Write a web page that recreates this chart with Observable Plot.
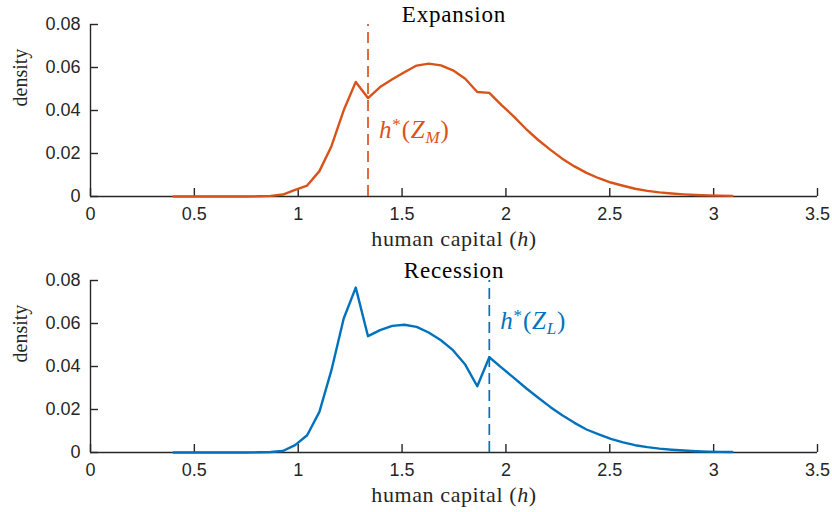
<!DOCTYPE html>
<html><head><meta charset="utf-8">
<script src="https://cdn.jsdelivr.net/npm/d3@7"></script>
<script src="https://cdn.jsdelivr.net/npm/@observablehq/plot@0.6"></script>
<style>
body{margin:0;background:#fff;}
#chart{width:832px;height:512px;overflow:hidden;}
svg{display:block;}
</style></head><body><div id="chart"></div>
<script>
const capital = [0.400,0.458,0.517,0.575,0.634,0.692,0.751,0.809,0.868,0.926,0.985,1.043,1.102,1.160,1.219,1.277,1.336,1.394,1.453,1.511,1.570,1.628,1.687,1.745,1.804,1.862,1.920,1.979,2.037,2.096,2.154,2.213,2.271,2.330,2.388,2.447,2.505,2.564,2.622,2.681,2.739,2.798,2.856,2.915,2.973,3.032,3.090];
const densityExpansion = [0,0,0,0,0,0,0,0.0001,0.0003,0.0009,0.0031,0.0051,0.0118,0.0234,0.0401,0.0533,0.0458,0.0509,0.0545,0.0578,0.0609,0.0618,0.0610,0.0587,0.0548,0.0486,0.0482,0.0425,0.0373,0.0315,0.0264,0.0218,0.0176,0.0140,0.0110,0.0085,0.0065,0.0050,0.0036,0.0026,0.0019,0.0014,0.0010,0.0007,0.0005,0.0004,0.0003];
const densityRecession = [0,0,0,0,0,0,0,0.0001,0.0002,0.0007,0.0034,0.0080,0.0189,0.0383,0.0623,0.0767,0.0541,0.0569,0.0589,0.0594,0.0584,0.0558,0.0522,0.0476,0.0409,0.0308,0.0443,0.0395,0.0348,0.0300,0.0256,0.0212,0.0173,0.0138,0.0107,0.0084,0.0063,0.0047,0.0034,0.0025,0.0018,0.0013,0.0009,0.0006,0.0004,0.0003,0.0002];
const hStarExpansion = 1.336;
const hStarRecession = 1.920;
const xTicks = [0,0.5,1,1.5,2,2.5,3,3.5];
const yTicks = [0,0.02,0.04,0.06,0.08];
const titles = ["Expansion","Recession"];
const subscripts = ["M","L"];
const labelHeights = [0.027,0.0573];
const colors = ["#D95319","#0072BD"];
const xLabel = "human capital (h)";
const yLabel = "density";

const serif = "'Liberation Serif','Times New Roman',serif";
const axisColor = "#262626";
const fmt = d => String(+(+d).toFixed(2));

function makePanel(i){
  const values = i === 0 ? densityExpansion : densityRecession;
  const hstar = i === 0 ? hStarExpansion : hStarRecession;
  const color = colors[i];
  const data = capital.map((h,k)=>({h, d: values[k]}));
  const W = 832, H = 256, ml = 90, mr = 15, mt = 24, mb = 60;
  const xDom = [0,3.5], yDom = [0,0.08];
  const tickPx = 8;
  const tickLenX = tickPx*(xDom[1]-xDom[0])/(W-ml-mr);
  const tickLenY = tickPx*(yDom[1]-yDom[0])/(H-mt-mb);
  const annot = `h*(Z_${subscripts[i]})`;
  const svg = Plot.plot({
    width: W, height: H, marginLeft: ml, marginRight: mr, marginTop: mt, marginBottom: mb,
    style: {fontFamily: "'Liberation Sans',Arial,Helvetica,sans-serif", fontSize: "18px", color: axisColor, background: "#fff", overflow: "visible"},
    x: {domain: xDom},
    y: {domain: yDom},
    marks: [
      Plot.axisX(xTicks, {tickSize: 0, tickPadding: 11, tickFormat: fmt, label: null, fill: axisColor, fontSize: 18}),
      Plot.axisY(yTicks, {tickSize: 0, tickPadding: 10, tickFormat: fmt, label: null, fill: axisColor, fontSize: 18}),
      Plot.ruleX(xTicks, {x: d=>d, y1: 0, y2: tickLenY, stroke: axisColor, strokeWidth: 1.4}),
      Plot.ruleY(yTicks, {y: d=>d, x1: 0, x2: tickLenX, stroke: axisColor, strokeWidth: 1.4}),
      Plot.ruleY([0], {x1: xDom[0], x2: xDom[1], stroke: axisColor, strokeWidth: 1.4}),
      Plot.ruleX([0], {y1: yDom[0], y2: yDom[1], stroke: axisColor, strokeWidth: 1.4}),
      Plot.line(data, {x: "h", y: "d", stroke: color, strokeWidth: 2.4, strokeLinejoin: "round"}),
      Plot.ruleX([hstar], {y1: yDom[0], y2: yDom[1], stroke: color, strokeWidth: 1.7, strokeDasharray: "11,6"}),
      Plot.text([titles[i]], {frameAnchor: "top", lineAnchor: "bottom", dy: -3, fontFamily: serif, fontSize: 23, fill: "#000"}),
      Plot.text([xLabel], {frameAnchor: "bottom", lineAnchor: "bottom", dy: 49, fontFamily: serif, fontSize: 22, fill: axisColor}),
      Plot.text([yLabel], {frameAnchor: "left", rotate: -90, dx: -70, dy: -4, fontFamily: serif, fontSize: 20, fill: axisColor}),
      Plot.text([annot], {x: hstar, y: labelHeights[i], dx: 11, textAnchor: "start", lineAnchor: "bottom", fontFamily: serif, fontSize: 25, fill: color})
    ]
  });
  svg.querySelectorAll("text").forEach(t => {
    if (t.textContent === xLabel) {
      t.innerHTML = 'human capital (<tspan font-style="italic">h</tspan>)';
      t.setAttribute("letter-spacing", "0.6");
    } else if (t.textContent === titles[i]) {
      t.setAttribute("letter-spacing", "0.8");
    } else if (t.textContent === annot) {
      t.setAttribute("letter-spacing", "0.8");
      t.innerHTML = '<tspan font-style="italic">h</tspan><tspan dy="-8" font-size="17">*</tspan><tspan dy="8">(</tspan><tspan font-style="italic">Z</tspan><tspan dy="5" font-size="17" font-style="italic">' + subscripts[i] + '</tspan><tspan dy="-5">)</tspan>';
    }
  });
  return svg;
}
const chart = document.getElementById("chart");
chart.appendChild(makePanel(0));
chart.appendChild(makePanel(1));
</script></body></html>
